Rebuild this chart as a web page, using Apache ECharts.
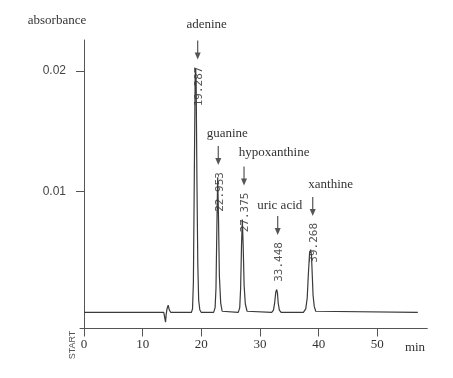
<!DOCTYPE html>
<html><head><meta charset="utf-8">
<script src="https://cdn.jsdelivr.net/npm/echarts@6/dist/echarts.min.js"></script>
<style>html,body{margin:0;padding:0;background:#fff}#c{width:453px;height:378px}</style>
</head><body><div id="c"></div>
<script>
// chromatogram trace (time in min, absorbance)
const timeMin = [
  0, 13.6, 13.8, 13.9, 14.0, 14.15, 14.35, 14.55, 14.8,
  18.3, 18.5, 18.65, 18.8, 18.95, 19.04, 19.12, 19.25, 19.4, 19.55, 19.75, 20.0,
  22.1, 22.35, 22.5, 22.65, 22.79, 22.93, 23.08, 23.3, 23.55, 23.8,
  26.3, 26.55, 26.7, 26.85, 26.99, 27.13, 27.3, 27.5, 27.8, 28.1,
  32.0, 32.3, 32.5, 32.7, 32.85, 32.98, 33.1, 33.3, 33.6,
  37.4, 37.8, 38.05, 38.25, 38.45, 38.65, 38.78, 38.92, 39.05, 39.25, 39.5, 39.8,
  56.9
];
const absorbance = [
  0, 0, -0.0001, -0.0008, -0.0002, 0.0003, 0.0006, 0.0002, 0,
  0, 0.0003, 0.0025, 0.011, 0.0195, 0.0202, 0.019, 0.011, 0.004, 0.001, 0.0002, 0,
  0, 0.0004, 0.002, 0.007, 0.0112, 0.0078, 0.003, 0.0008, 0.0001, 0,
  0, 0.0004, 0.002, 0.0055, 0.0077, 0.0056, 0.0022, 0.0007, 0.0001, 0,
  0, 0.0002, 0.0008, 0.0017, 0.0019, 0.0016, 0.0008, 0.0002, 0,
  0, 0.0003, 0.0012, 0.0032, 0.0049, 0.0052, 0.0047, 0.003, 0.0014, 0.0005, 0.0001, 0,
  0
];
const xTickValues = [0, 10, 20, 30, 40, 50];
const yTickValues = [0.01, 0.02];
const yTickLabels = ['0.01', '0.02'];
// peak annotations
const peakNames = ['adenine', 'guanine', 'hypoxanthine', 'uric acid', 'xanthine'];
const retentionLabels = ['19.287', '22.953', '27.375', '33.448', '39.268'];
const arrowTimes = [19.38, 22.89, 27.28, 33.02, 38.99];
const arrowTips = [0.02095, 0.01221, 0.01051, 0.00641, 0.00799];

// layout of the annotation name text relative to arrow tip (px)
const nameOffsets = [[9, -35], [9, -31], [30, -33], [2, -29], [18, -31]];

const chart = echarts.init(document.getElementById('c'), null, {renderer: 'canvas'});
const AX = '#555';
chart.setOption({
  animation: false,
  backgroundColor: '#ffffff',
  grid: {left: 80, right: 25.7, top: 40, bottom: 49.5},
  xAxis: {
    type: 'value', min: -0.68, max: 58.52,
    axisLine: {onZero: false, lineStyle: {color: AX, width: 1}},
    axisTick: {customValues: xTickValues, length: 8, lineStyle: {color: AX}},
    axisLabel: {customValues: xTickValues, margin: 10, color: '#333', fontFamily: 'Liberation Serif', fontSize: 13},
    splitLine: {show: false}
  },
  yAxis: {
    type: 'value', min: -0.00133, max: 0.02257,
    axisLine: {show: true, lineStyle: {color: AX, width: 1}},
    axisTick: {show: true, customValues: yTickValues, length: 8, lineStyle: {color: AX}},
    axisLabel: {customValues: yTickValues, margin: 14, color: '#444', fontFamily: 'Liberation Sans', fontSize: 12,
      formatter: v => yTickLabels[yTickValues.indexOf(+v.toFixed(4))] || ''},
    splitLine: {show: false}
  },
  graphic: [
    {type: 'text', x: 57, y: 21, style: {text: 'absorbance', font: '13px "Liberation Serif"', fill: '#333', align: 'center', verticalAlign: 'middle'}},
    {type: 'text', x: 415, y: 348, style: {text: 'min', font: '13px "Liberation Serif"', fill: '#333', align: 'center', verticalAlign: 'middle'}},
    {type: 'text', x: 73, y: 345, rotation: Math.PI / 2, style: {text: 'START', font: '9px "Liberation Sans"', fill: '#555', align: 'center', verticalAlign: 'middle'}}
  ],
  series: [
    {
      type: 'line', data: timeMin.map((t, i) => [t, absorbance[i]]),
      showSymbol: false, symbol: 'none', smooth: false,
      lineStyle: {color: '#3a3a3a', width: 1.2}, silent: true
    },
    {
      type: 'custom', clip: false, silent: true,
      data: arrowTimes.map((t, i) => [t, arrowTips[i]]),
      renderItem: function (params, api) {
        const i = params.dataIndex;
        const p = api.coord([api.value(0), api.value(1)]);
        const x = p[0], y = p[1];
        const off = nameOffsets[i];
        return {type: 'group', children: [
          {type: 'line', shape: {x1: x, y1: y - 19, x2: x, y2: y - 6}, style: {stroke: '#555', lineWidth: 1.2}},
          {type: 'polygon', shape: {points: [[x - 3, y - 7], [x + 3, y - 7], [x, y]]}, style: {fill: '#555'}},
          {type: 'text', x: x + off[0], y: y + off[1], style: {text: peakNames[i], font: '13px "Liberation Serif"', fill: '#333', align: 'center', verticalAlign: 'middle'}},
          {type: 'text', x: x + 1.5, y: y + 7, rotation: Math.PI / 2, style: {text: retentionLabels[i], font: '11px "DejaVu Sans Mono"', fill: '#555', align: 'right', verticalAlign: 'middle'}}
        ]};
      }
    }
  ]
});
</script>
</body></html>
